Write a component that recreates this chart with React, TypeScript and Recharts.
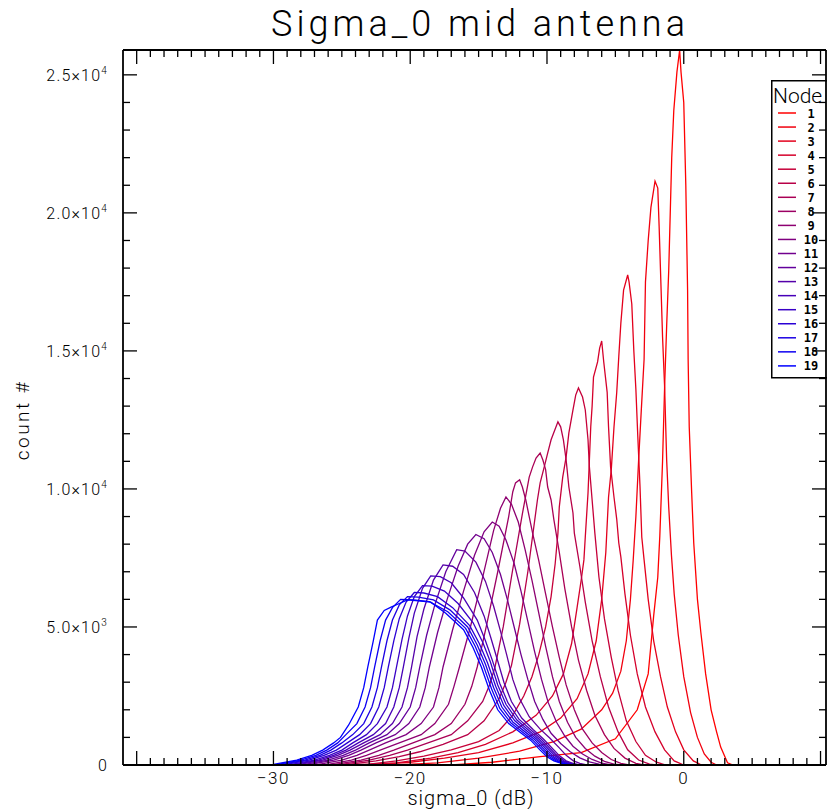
import React from "react";
import { LineChart, Line, XAxis, YAxis, Legend } from "recharts";

type Pt = [number, number];

// histogram counts per node, [sigma_0 dB, count]
const node1: Pt[] = [[-41,0],[-17,0],[-14,100],[-10.5,300],[-7.5,450],[-5,950],[-3.4,2000],[-2.6,3300],[-2.2,5400],[-1.9,6800],[-1.75,8300],[-1.55,11000],[-1.4,13700],[-1.25,15900],[-1.1,17900],[-0.88,22000],[-0.73,23700],[-0.5,25100],[-0.3,25900],[-0.2,25100],[0,24000],[0.15,21000],[0.28,17200],[0.32,14700],[0.4,12250],[0.58,9850],[0.73,8040],[1,6000],[1.25,4800],[1.6,3300],[2,2000],[2.4,1200],[2.7,650],[3.2,80],[3.6,0],[10.4,0]];
const node2: Pt[] = [[-21,0],[-18,80],[-15,250],[-12,500],[-9.5,850],[-7.5,1300],[-6,2000],[-5.2,2600],[-4.6,3400],[-4.2,4500],[-3.9,6000],[-3.7,7400],[-3.5,9000],[-3.3,11050],[-3.1,12900],[-2.9,14700],[-2.8,17500],[-2.6,19000],[-2.4,20200],[-2.1,21150],[-1.9,20900],[-1.8,19500],[-1.7,17900],[-1.55,15500],[-1.4,13700],[-1.25,11050],[-1.1,9350],[-0.9,7600],[-0.7,6200],[-0.4,4700],[0,3200],[0.5,1900],[1,1000],[1.5,400],[2,100],[2.4,0]];
const node3: Pt[] = [[-23,0],[-20,100],[-17.5,250],[-15,450],[-12.5,800],[-10.5,1200],[-9,1700],[-7.8,2400],[-7,3300],[-6.4,4500],[-6,6000],[-5.7,7700],[-5.5,9700],[-5.3,10700],[-5.1,12250],[-4.9,13500],[-4.75,14800],[-4.6,16000],[-4.4,17200],[-4.1,17750],[-4,17500],[-3.8,16700],[-3.65,15000],[-3.5,13600],[-3.36,11900],[-3.2,10100],[-3.07,8260],[-2.9,7430],[-2.6,6000],[-2.2,4500],[-1.7,3200],[-1.2,2100],[-0.6,1200],[0,550],[0.7,150],[1.3,0]];
const node4: Pt[] = [[-24,0],[-21,80],[-18.5,250],[-16.5,450],[-14.5,750],[-12.5,1200],[-10.8,1800],[-9.6,2500],[-8.8,3300],[-8.2,4400],[-7.8,5700],[-7.5,6700],[-7.3,7430],[-7.2,8260],[-7,9850],[-6.9,11050],[-6.8,12250],[-6.7,13000],[-6.6,14050],[-6.3,14600],[-6.15,15100],[-6,15360],[-5.85,14600],[-5.6,13500],[-5.5,12250],[-5.35,10800],[-5.1,9700],[-4.9,8900],[-4.75,8040],[-4.6,7540],[-4.3,6200],[-3.9,4700],[-3.4,3300],[-2.8,2100],[-2.1,1200],[-1.4,550],[-0.7,150],[0,0]];
const node5: Pt[] = [[-25,0],[-23,30],[-21,150],[-19,320],[-17,550],[-15,850],[-13.5,1250],[-12.5,1800],[-11.7,2500],[-11.1,3200],[-10.6,4000],[-10.1,5000],[-9.7,6100],[-9.4,7300],[-9.2,8400],[-9.1,9350],[-8.85,10430],[-8.6,11160],[-8.4,12030],[-8.1,12860],[-7.9,13400],[-7.7,13660],[-7.4,13330],[-7.2,12860],[-7,11780],[-6.9,10800],[-6.7,9600],[-6.5,8400],[-6.2,6800],[-5.8,5300],[-5.3,3900],[-4.8,2700],[-4.2,1600],[-3.5,850],[-2.8,350],[-2,100],[-1.3,0]];
const node6: Pt[] = [[-26,0],[-24.5,20],[-22.5,150],[-20.8,300],[-19.3,480],[-17.6,750],[-15.8,1100],[-14.6,1600],[-13.5,2400],[-13,3000],[-12.6,3600],[-12,5100],[-11.4,7000],[-10.7,9600],[-10.5,10220],[-10.2,10800],[-9.95,11300],[-9.7,11780],[-9.2,12430],[-9,12250],[-8.8,11780],[-8.6,11050],[-8.4,10070],[-8.1,9130],[-8,8400],[-7.6,7200],[-7.2,5900],[-6.7,4500],[-6.1,3200],[-5.5,2100],[-4.8,1200],[-4.1,550],[-3.3,180],[-2.5,30],[-2,0]];
const node7: Pt[] = [[-26.5,0],[-25,20],[-23,180],[-21.5,350],[-20.2,540],[-18.7,800],[-17,1100],[-15.8,1600],[-14.7,2300],[-14.2,2900],[-13.8,3550],[-13.2,5000],[-12.5,7100],[-11.8,9100],[-11.3,10430],[-11.05,10800],[-10.8,11120],[-10.5,11300],[-10.3,11050],[-10.1,10700],[-9.95,10070],[-9.7,9600],[-9.5,8900],[-9.1,7700],[-8.7,6400],[-8.2,5000],[-7.7,3800],[-7.1,2700],[-6.5,1800],[-5.8,1100],[-5.1,600],[-4.3,250],[-3.5,60],[-2.9,0]];
const node8: Pt[] = [[-27,0],[-25.5,20],[-23.6,180],[-22.3,350],[-21.2,540],[-19.8,800],[-18.2,1100],[-17,1500],[-16,2200],[-15.5,2850],[-15.1,3550],[-14.4,5100],[-13.6,7000],[-12.8,9000],[-12.5,9900],[-12.3,10220],[-12,10330],[-11.8,10070],[-11.55,9600],[-11.3,9000],[-11.05,8400],[-10.6,7400],[-10.1,6200],[-9.6,5000],[-9.1,3900],[-8.6,2900],[-8,2000],[-7.4,1300],[-6.7,800],[-6,450],[-5.3,200],[-4.6,60],[-4,0]];
const node9: Pt[] = [[-27.5,0],[-26,20],[-24.3,180],[-23.2,350],[-22.2,540],[-20.8,800],[-19.2,1100],[-18.2,1500],[-17.2,2200],[-16.8,2850],[-16.4,3550],[-15.6,5000],[-14.8,6600],[-13.9,8500],[-13.4,9300],[-13,9710],[-12.6,9450],[-12.1,8800],[-11.6,7800],[-11.1,6700],[-10.6,5500],[-10.1,4300],[-9.6,3200],[-9.1,2300],[-8.5,1550],[-7.9,1000],[-7.2,600],[-6.5,320],[-5.8,130],[-5.1,30],[-4.5,0]];
const node10: Pt[] = [[-28.2,0],[-26.7,20],[-25,180],[-23.9,350],[-23,540],[-21.8,800],[-20.3,1100],[-19.2,1500],[-18.3,2100],[-17.9,2800],[-17.6,3550],[-16.9,4900],[-16.1,6300],[-15.3,7600],[-14.6,8450],[-14,8800],[-13.5,8650],[-13,8150],[-12.4,7300],[-11.9,6300],[-11.4,5200],[-10.9,4100],[-10.4,3100],[-9.9,2250],[-9.3,1550],[-8.7,1050],[-8.1,680],[-7.4,400],[-6.7,200],[-6,70],[-5.3,0]];
const node11: Pt[] = [[-28.8,0],[-27.3,20],[-25.6,180],[-24.5,350],[-23.6,540],[-22.5,800],[-21.1,1100],[-20.1,1500],[-19.3,2100],[-18.9,2800],[-18.6,3550],[-18,4800],[-17.3,6000],[-16.5,7200],[-15.8,8000],[-15.2,8350],[-14.6,8200],[-14,7700],[-13.4,6900],[-12.9,6000],[-12.4,5000],[-11.9,4000],[-11.4,3100],[-10.9,2300],[-10.3,1650],[-9.7,1150],[-9,780],[-8.3,480],[-7.6,260],[-6.9,110],[-6.2,30],[-5.7,0]];
const node12: Pt[] = [[-29.2,0],[-27.7,20],[-26,180],[-24.9,350],[-24,540],[-23,800],[-21.7,1100],[-20.8,1500],[-20,2100],[-19.6,2800],[-19.3,3550],[-18.8,4700],[-18.2,5800],[-17.4,7000],[-16.6,7800],[-16,7750],[-15.2,7350],[-14.5,6650],[-13.9,5750],[-13.4,4850],[-12.95,4000],[-12.5,3100],[-12,2400],[-11.3,1750],[-10.5,1300],[-9.8,980],[-9.1,620],[-8.6,350],[-8.1,160],[-7.6,60],[-7.1,0]];
const node13: Pt[] = [[-29.6,0],[-28.1,20],[-26.4,180],[-25.3,350],[-24.4,540],[-23.4,800],[-22.2,1100],[-21.3,1500],[-20.6,2100],[-20.2,2800],[-19.9,3550],[-19.5,4650],[-19,5650],[-18.3,6700],[-17.6,7250],[-16.9,7200],[-16.1,6900],[-15.3,6250],[-14.6,5400],[-14.1,4600],[-13.65,3850],[-13.15,3000],[-12.6,2300],[-11.85,1700],[-11,1280],[-10.3,960],[-9.6,600],[-9.1,340],[-8.6,150],[-8.1,60],[-7.6,0]];
const node14: Pt[] = [[-29.9,0],[-28.4,20],[-26.7,180],[-25.6,350],[-24.7,540],[-23.8,800],[-22.7,1100],[-21.8,1500],[-21.2,2100],[-20.8,2800],[-20.5,3550],[-20.1,4600],[-19.7,5500],[-19.1,6400],[-18.5,6850],[-17.8,6820],[-17,6600],[-16.1,6050],[-15.1,5250],[-14.5,4500],[-14,3800],[-13.45,2950],[-12.85,2250],[-12.05,1660],[-11.15,1260],[-10.45,950],[-9.75,590],[-9.25,330],[-8.75,150],[-8.25,60],[-7.75,0]];
const node15: Pt[] = [[-30.2,0],[-28.7,20],[-27,180],[-25.9,350],[-25,540],[-24.2,800],[-23.2,1100],[-22.4,1500],[-21.7,2100],[-21.3,2800],[-21,3550],[-20.6,4550],[-20.2,5400],[-19.7,6100],[-19.1,6500],[-18.4,6480],[-17.5,6300],[-16.5,5850],[-15.4,5150],[-14.7,4450],[-14.15,3750],[-13.6,2900],[-13,2200],[-12.2,1630],[-11.3,1240],[-10.6,940],[-9.9,580],[-9.4,330],[-8.9,150],[-8.4,60],[-7.9,0]];
const node16: Pt[] = [[-30.6,0],[-29.1,20],[-27.4,180],[-26.3,350],[-25.4,540],[-24.6,800],[-23.7,1100],[-22.9,1500],[-22.3,2100],[-21.9,2800],[-21.6,3550],[-21.2,4500],[-20.8,5300],[-20.3,5900],[-19.7,6250],[-19,6230],[-18,6100],[-16.9,5700],[-15.65,5050],[-14.95,4400],[-14.35,3700],[-13.75,2850],[-13.15,2150],[-12.35,1600],[-11.45,1220],[-10.75,930],[-10.05,570],[-9.55,320],[-9.05,150],[-8.55,60],[-8.05,0]];
const node17: Pt[] = [[-30.9,0],[-29.4,20],[-27.7,180],[-26.6,350],[-25.8,540],[-25,800],[-24.2,1100],[-23.4,1500],[-22.8,2100],[-22.4,2800],[-22.1,3550],[-21.7,4500],[-21.3,5250],[-20.8,5800],[-20.2,6100],[-19.4,6080],[-18.3,5980],[-17.1,5620],[-15.8,5000],[-15.1,4350],[-14.5,3650],[-13.9,2800],[-13.3,2100],[-12.5,1560],[-11.6,1200],[-10.9,920],[-10.2,560],[-9.7,320],[-9.2,150],[-8.7,60],[-8.2,0]];
const node18: Pt[] = [[-31.2,0],[-29.7,20],[-28,180],[-26.9,350],[-26.1,540],[-25.3,800],[-24.7,1100],[-23.9,1500],[-23.3,2100],[-22.9,2800],[-22.6,3550],[-22.2,4500],[-21.8,5250],[-21.3,5700],[-20.7,6000],[-19.8,5980],[-18.6,5920],[-17.25,5550],[-15.95,4950],[-15.25,4300],[-14.65,3600],[-14.05,2750],[-13.45,2050],[-12.65,1530],[-11.75,1180],[-11.05,910],[-10.35,550],[-9.85,310],[-9.35,150],[-8.85,60],[-8.35,0]];
const node19: Pt[] = [[-31.5,0],[-30,20],[-28.3,180],[-27.2,350],[-26.4,540],[-25.6,800],[-25.1,1000],[-24.5,1450],[-23.8,2100],[-23.4,2800],[-23.1,3550],[-22.7,4500],[-22.4,5250],[-21.9,5600],[-21.4,5720],[-20.8,5850],[-20.2,5980],[-19.4,5950],[-18.5,5900],[-17.4,5500],[-16.1,4900],[-15.4,4250],[-14.8,3550],[-14.2,2700],[-13.6,2000],[-12.8,1500],[-11.9,1160],[-11.2,900],[-10.5,540],[-10,300],[-9.5,150],[-9,70],[-8.5,0]];

const nodes = [node1, node2, node3, node4, node5, node6, node7, node8, node9, node10, node11, node12, node13, node14, node15, node16, node17, node18, node19];
const nodeNames = ["1", "2", "3", "4", "5", "6", "7", "8", "9", "10", "11", "12", "13", "14", "15", "16", "17", "18", "19"];

const xDomain: [number, number] = [-41, 10.4];
const yDomain: [number, number] = [0, 25900];
const xLabelled = [-30, -20, -10, 0];
const yMajor = [0, 5000, 10000, 15000, 20000, 25000];
const yMantissa = ["0", "5.0", "1.0", "1.5", "2.0", "2.5"];
const yExponent = ["", "3", "4", "4", "4", "4"];

// minor ticks every 1 dB / 1000 counts, IDL style
const xTicks = Array.from({ length: 51 }, (_, i) => -40 + i);
const yTicks = Array.from({ length: 26 }, (_, i) => i * 1000);

const FONT = "Roboto, 'DejaVu Sans', sans-serif";
const MAJOR = 14;
const MINOR = 7;

// red -> blue ramp across the 19 nodes
const colorFor = (i: number) => {
  const t = i / (nodes.length - 1);
  return `rgb(${Math.round(255 * (1 - t))},0,${Math.round(255 * t)})`;
};

function BottomTick({ x, y, payload }: any) {
  const v = payload.value;
  const len = v % 10 === 0 ? MAJOR : MINOR;
  return (
    <g>
      <line x1={x} x2={x} y1={y} y2={y - len} stroke="#000" strokeWidth={1.3} />
      {xLabelled.includes(v) && (
        <text x={x} y={y + 19} textAnchor="middle" fontSize={17} fontFamily={FONT} fontWeight={300} letterSpacing={1.5} fill="#000">
          {v === 0 ? "0" : `\u2212${-v}`}
        </text>
      )}
    </g>
  );
}

function TopTick({ x, y, payload }: any) {
  const len = payload.value % 10 === 0 ? MAJOR : MINOR;
  return <line x1={x} x2={x} y1={y} y2={y + len} stroke="#000" strokeWidth={1.3} />;
}

function LeftTick({ x, y, payload }: any) {
  const v = payload.value;
  const idx = yMajor.indexOf(v);
  return (
    <g>
      <line x1={x} x2={x + (idx >= 0 ? MAJOR : MINOR)} y1={y} y2={y} stroke="#000" strokeWidth={1.3} />
      {idx >= 0 && (
        <text x={x - 15} y={y + 6} textAnchor="end" fontSize={16} fontFamily={FONT} fontWeight={300} letterSpacing={1.2} fill="#000">
          {yMantissa[idx]}
          {yExponent[idx] && "\u00d710"}
          {yExponent[idx] && (
            <tspan dy={-7} fontSize={10}>
              {yExponent[idx]}
            </tspan>
          )}
        </text>
      )}
    </g>
  );
}

function RightTick({ x, y, payload }: any) {
  const len = payload.value % 5000 === 0 ? MAJOR : MINOR;
  return <line x1={x} x2={x - len} y1={y} y2={y} stroke="#000" strokeWidth={1.3} />;
}

function NodeLegend() {
  return (
    <svg width={70} height={300} style={{ overflow: "visible" }}>
      <rect x={0.75} y={0.75} width={80} height={297} fill="none" stroke="#000" strokeWidth={1.5} />
      <text x={2} y={23} fontSize={21} fontFamily={FONT} fontWeight={300} fill="#000">
        Node
      </text>
      {nodeNames.map((n, i) => (
        <g key={n}>
          <line x1={7} x2={25} y1={33 + i * 14.05} y2={33 + i * 14.05} stroke={colorFor(i)} strokeWidth={1.5} />
          <text x={40} y={37.5 + i * 14.05} textAnchor="middle" fontSize={12} fontWeight={600} fontFamily="'DejaVu Sans Mono', monospace" fill="#000">
            {n}
          </text>
        </g>
      ))}
    </svg>
  );
}

export default function App() {
  const axisLine = { stroke: "#000", strokeWidth: 1.8 };
  return (
    <div style={{ position: "absolute", left: 0, top: 0, width: 827, height: 809, overflow: "hidden", background: "#fff" }}>
      <div
        style={{
          position: "absolute",
          left: 480,
          top: 6,
          transform: "translateX(-50%)",
          whiteSpace: "nowrap",
          fontFamily: FONT,
          fontWeight: 300,
          fontSize: 36,
          lineHeight: "36px",
          letterSpacing: 4,
        }}
      >
        Sigma_0 mid antenna
      </div>
      <div
        style={{
          position: "absolute",
          left: 471,
          top: 788,
          transform: "translateX(-50%)",
          whiteSpace: "nowrap",
          fontFamily: FONT,
          fontWeight: 300,
          fontSize: 20,
          lineHeight: "20px",
          letterSpacing: 1,
        }}
      >
        sigma_0 (dB)
      </div>
      <div
        style={{
          position: "absolute",
          left: 22,
          top: 420,
          transform: "translate(-50%, -50%) rotate(-90deg)",
          whiteSpace: "nowrap",
          fontFamily: FONT,
          fontWeight: 300,
          fontSize: 19,
          lineHeight: "19px",
          letterSpacing: 2.5,
        }}
      >
        count #
      </div>
      {/* axes get 1px so Recharts still draws them; margins put the plot box at x 123..826, y 50..765 */}
      <LineChart width={827} height={809} margin={{ top: 49, right: 0, bottom: 43, left: 122 }}>
        <XAxis
          xAxisId="b"
          type="number"
          dataKey="x"
          orientation="bottom"
          domain={xDomain}
          allowDataOverflow
          ticks={xTicks}
          interval={0}
          tick={BottomTick}
          tickLine={false}
          tickSize={0}
          tickMargin={0}
          height={1}
          axisLine={axisLine}
        />
        <XAxis
          xAxisId="t"
          type="number"
          dataKey="x"
          orientation="top"
          domain={xDomain}
          allowDataOverflow
          ticks={xTicks}
          interval={0}
          tick={TopTick}
          tickLine={false}
          tickSize={0}
          tickMargin={0}
          height={1}
          axisLine={axisLine}
        />
        <YAxis
          yAxisId="l"
          type="number"
          domain={yDomain}
          allowDataOverflow
          ticks={yTicks}
          interval={0}
          tick={LeftTick}
          tickLine={false}
          tickSize={0}
          tickMargin={0}
          width={1}
          axisLine={axisLine}
        />
        <YAxis
          yAxisId="r"
          type="number"
          orientation="right"
          domain={yDomain}
          allowDataOverflow
          ticks={yTicks}
          interval={0}
          tick={RightTick}
          tickLine={false}
          tickSize={0}
          tickMargin={0}
          width={1}
          axisLine={axisLine}
        />
        {nodes.map((pts, i) => (
          <Line
            key={nodeNames[i]}
            xAxisId="b"
            yAxisId="l"
            data={pts.map(([x, y]) => ({ x, y }))}
            dataKey="y"
            type="linear"
            stroke={colorFor(i)}
            strokeWidth={1.3}
            dot={false}
            activeDot={false}
            isAnimationActive={false}
          />
        ))}
        <Legend
          layout="vertical"
          align="center"
          verticalAlign="middle"
          content={() => <NodeLegend />}
          wrapperStyle={{ position: "absolute", left: 771, top: 80, width: 70, height: 300 }}
        />
      </LineChart>
    </div>
  );
}
